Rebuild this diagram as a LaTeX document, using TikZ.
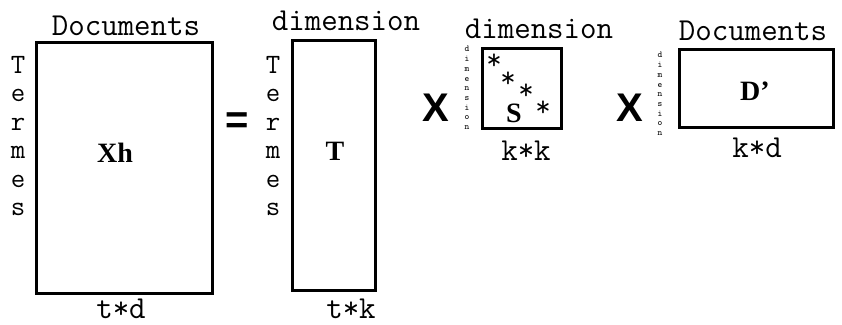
\documentclass[tikz,border=0pt]{standalone}
\usepackage{fontspec}
\setmainfont{Liberation Serif}
\setsansfont{Liberation Sans}
\usetikzlibrary{positioning}
\tikzset{
    matbox/.style={draw,line width=3pt,inner sep=0pt,font=\fontsize{28}{28}\selectfont\bfseries},
    dimlabel/.style={font=\ttfamily\fontsize{32}{32}\selectfont,inner sep=0pt},
    vertlabel/.style={font=\ttfamily\fontsize{28}{28.5}\selectfont,align=center,inner sep=0pt},
    tinylabel/.style={font=\ttfamily\fontsize{9}{9.7}\selectfont,align=center,inner sep=0pt},
    opsign/.style={font=\sffamily\bfseries\fontsize{40}{40}\selectfont,inner sep=0pt},
    starmark/.style={font=\ttfamily\fontsize{30}{30}\selectfont,inner sep=0pt}
}

\begin{document}
\begin{tikzpicture}[x=1pt,y=-1pt]
    \useasboundingbox (0,0) rectangle (842,324);
    % Matrix Xh
    \node[matbox,minimum width=176pt,minimum height=251pt] (xh) at (124,167.5) {};
    \node[matbox,draw=none] (xhlabel) at (115,153) {Xh};
    \node[dimlabel,anchor=base] (xhtop) at (126,35) {Documents};
    \node[dimlabel,anchor=base] (xhbot) at (121,318) {t*d};
    \node[vertlabel] (xhside) at (18,136) {T\\e\\r\\m\\e\\s};
    % Equal sign
    \node[opsign] (eq) at (237,123) {=};
    % Matrix T
    \node[matbox,minimum width=83pt,minimum height=250pt] (tm) at (333.5,165) {};
    \node[matbox,draw=none] (tmlabel) at (335,151) {T};
    \node[dimlabel,anchor=base] (tmtop) at (346,30) {dimension};
    \node[dimlabel,anchor=base] (tmbot) at (351,318) {t*k};
    \node[vertlabel] (tmside) at (273,136) {T\\e\\r\\m\\e\\s};
    % First product sign
    \node[opsign] (times1) at (436,108) {X};
    % Matrix S
    \node[matbox,minimum width=79pt,minimum height=80pt] (sm) at (521.5,88) {};
    \node[matbox,draw=none] (slabel) at (514,113) {S};
    \node[starmark] (st1) at (494,62) {*};
    \node[starmark] (st2) at (508,80) {*};
    \node[starmark] (st3) at (526,92) {*};
    \node[starmark] (st4) at (543,109) {*};
    \node[dimlabel,anchor=base] (smtop) at (539,38) {dimension};
    \node[dimlabel,anchor=base] (smbot) at (526,160) {k*k};
    \node[tinylabel] (smside) at (467,88) {d\\i\\m\\e\\n\\s\\i\\o\\n};
    % Second product sign
    \node[opsign] (times2) at (630,108) {X};
    % Matrix D'
    \node[matbox,minimum width=154pt,minimum height=78pt] (dm) at (756,88) {};
    \node[matbox,draw=none] (dmlabel) at (755,91) {D'};
    \node[dimlabel,anchor=base] (dmtop) at (753,40) {Documents};
    \node[dimlabel,anchor=base] (dmbot) at (757,157) {k*d};
    \node[tinylabel] (dmside) at (660,94) {d\\i\\m\\e\\n\\s\\i\\o\\n};
\end{tikzpicture}
\end{document}
